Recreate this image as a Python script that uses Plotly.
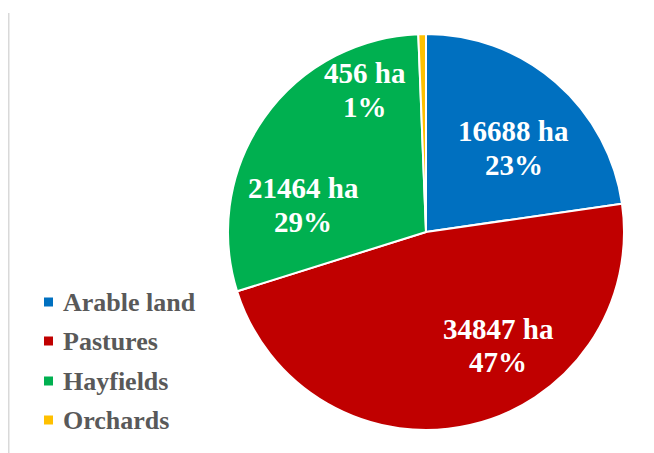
import plotly.graph_objects as go

categories = ["Arable land", "Pastures", "Hayfields", "Orchards"]
areas_ha = [16688, 34847, 21464, 456]
percent_labels = ["23%", "47%", "29%", "1%"]
colors = ["#0070C0", "#C00000", "#00B050", "#FFC000"]

# label anchor positions in target pixels (x from left, y from top): centre of two-line label
label_pos = [(514, 148), (498, 345), (303, 205), (365, 90)]
legend_rows_y = [302, 341, 381, 420]

W, H = 654, 453
OFF = 8  # page body margin in the browser
cx, cy, R = 426, 232, 198


def px_x(x):
    return (x - OFF) / W


def px_y(y):
    return 1 - (y - OFF) / H


fig = go.Figure()
fig.add_trace(go.Pie(
    labels=categories,
    values=areas_ha,
    marker=dict(colors=colors, line=dict(color="white", width=2)),
    sort=False,
    direction="clockwise",
    rotation=0,
    textinfo="none",
    hoverinfo="label+value+percent",
    showlegend=False,
    domain=dict(x=[px_x(cx - R), px_x(cx + R)], y=[px_y(cy + R), px_y(cy - R)]),
))

lab_font = dict(family="Liberation Serif", size=29, color="white", weight="bold")
for v, p, (lx, ly) in zip(areas_ha, percent_labels, label_pos):
    for txt, dy in ((f"{v} ha", -16.5), (p, 16.5)):
        fig.add_annotation(
            x=px_x(lx), y=px_y(ly + dy), xref="paper", yref="paper",
            text=txt, showarrow=False, font=lab_font,
            xanchor="center", yanchor="middle",
        )

# legend (custom, to match spacing)
leg_font = dict(family="Liberation Serif", size=26, color="#595959", weight="bold")
for name, col, ry in zip(categories, colors, legend_rows_y):
    fig.add_shape(type="rect", xref="paper", yref="paper",
                  x0=px_x(44), x1=px_x(53), y0=px_y(ry + 4.5), y1=px_y(ry - 4.5),
                  fillcolor=col, line=dict(width=0))
    fig.add_annotation(x=px_x(61), y=px_y(ry), xref="paper", yref="paper",
                       text=name, showarrow=False, font=leg_font,
                       xanchor="left", yanchor="middle")

fig.add_shape(type="line", xref="paper", yref="paper",
              x0=px_x(8.5), x1=px_x(8.5), y0=0, y1=px_y(13),
              line=dict(color="#D9D9D9", width=2))

fig.update_layout(
    width=W, height=H,
    margin=dict(l=0, r=0, t=0, b=0),
    paper_bgcolor="white", plot_bgcolor="white",
    showlegend=False,
)

fig.write_html("out.html")
